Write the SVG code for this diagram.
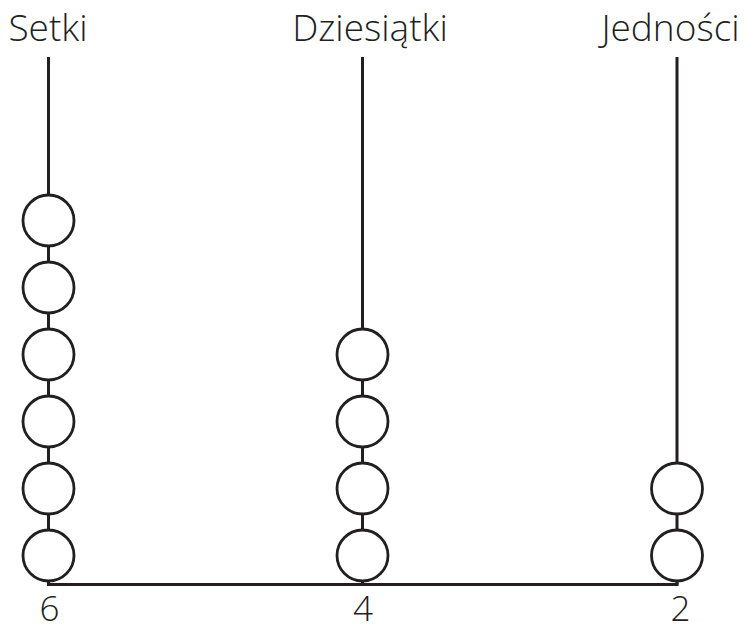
<svg xmlns="http://www.w3.org/2000/svg" width="745" height="628" viewBox="0 0 745 628">
<style>
.rod{stroke:#231f20;stroke-width:3;fill:none}
.bead{fill:#fff;stroke:#231f20;stroke-width:2.8}
.lbl{font-family:"Open Sans","Liberation Sans",sans-serif;font-weight:300;font-size:37px;fill:#231f20;text-anchor:middle}
.num{font-size:35px}
</style>
<rect width="745" height="628" fill="#fff"/>
<g id="connectors">
<line class="rod" x1="48.5" y1="57" x2="48.5" y2="584.5"/>
<line class="rod" x1="362.5" y1="57" x2="362.5" y2="584.5"/>
<line class="rod" x1="677" y1="57" x2="677" y2="584.5"/>
<line class="rod" x1="47" y1="584.5" x2="678.5" y2="584.5"/>
</g>
<g id="label-setki"><text class="lbl" x="48" y="41">Setki</text></g>
<g id="label-dziesiatki"><text class="lbl" x="370" y="41">Dziesiątki</text></g>
<g id="label-jednosci"><text class="lbl" x="670.5" y="41">Jedności</text></g>
<g id="setki-beads">
<circle class="bead" cx="48.5" cy="220.5" r="25.5"/>
<circle class="bead" cx="48.5" cy="287.5" r="25.5"/>
<circle class="bead" cx="48.5" cy="354.5" r="25.5"/>
<circle class="bead" cx="48.5" cy="421.5" r="25.5"/>
<circle class="bead" cx="48.5" cy="488.5" r="25.5"/>
<circle class="bead" cx="48.5" cy="555.5" r="25.5"/>
</g>
<g id="dziesiatki-beads">
<circle class="bead" cx="362.5" cy="354.5" r="25.5"/>
<circle class="bead" cx="362.5" cy="421.5" r="25.5"/>
<circle class="bead" cx="362.5" cy="488.5" r="25.5"/>
<circle class="bead" cx="362.5" cy="555.5" r="25.5"/>
</g>
<g id="jednosci-beads">
<circle class="bead" cx="677" cy="488.5" r="25.5"/>
<circle class="bead" cx="677" cy="555.5" r="25.5"/>
</g>
<g id="value-setki"><text class="lbl num" x="49.5" y="621">6</text></g>
<g id="value-dziesiatki"><text class="lbl num" x="363" y="621">4</text></g>
<g id="value-jednosci"><text class="lbl num" x="680.5" y="621">2</text></g>
</svg>
